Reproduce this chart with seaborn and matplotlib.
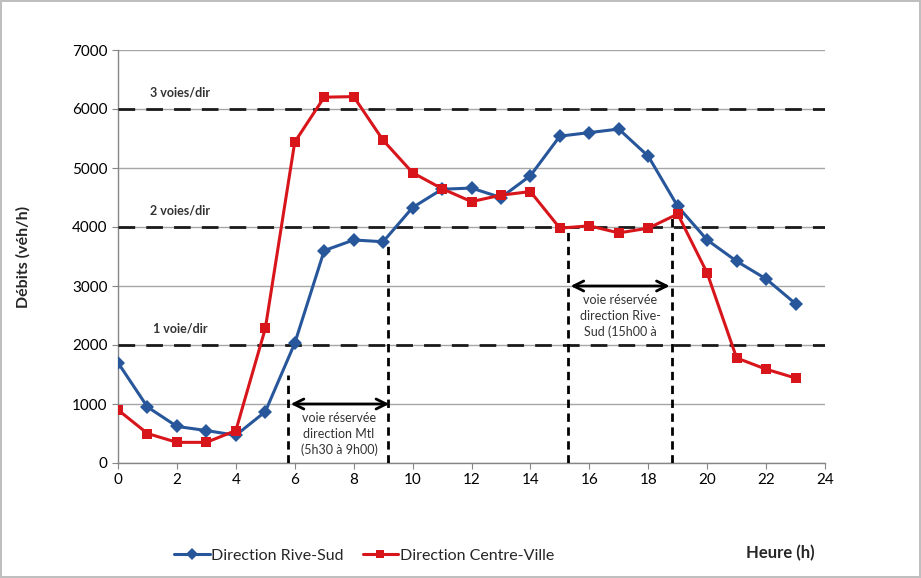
import numpy as np
import pandas as pd
import matplotlib
matplotlib.use("Agg")
import matplotlib.pyplot as plt
import seaborn as sns

hours = list(range(24))
rive_sud = [1700, 950, 620, 550, 470, 870, 2030, 3600, 3780, 3750, 4330, 4640,
            4660, 4500, 4870, 5540, 5600, 5660, 5200, 4350, 3780, 3420, 3120, 2700]
centre_ville = [900, 500, 350, 350, 550, 2280, 5440, 6200, 6210, 5470, 4920, 4650,
                4430, 4540, 4600, 3980, 4020, 3900, 3980, 4220, 3220, 1780, 1590, 1440]
capacity_levels = [2000, 4000, 6000]
capacity_labels = ["1 voie/dir", "2 voies/dir", "3 voies/dir"]
series_names = ["Direction Rive-Sud", "Direction Centre-Ville"]

df = pd.DataFrame({
    "Heure": hours * 2,
    "Debit": rive_sud + centre_ville,
    "Direction": [series_names[0]] * 24 + [series_names[1]] * 24,
})

sns.set_style("white")
plt.rcParams['font.family'] = ['Lato', 'DejaVu Sans']

fig = plt.figure(figsize=(9.21, 5.78), dpi=100)
fig.patch.set_edgecolor("#BFBFBF")
fig.patch.set_linewidth(1.5)
ax = fig.add_axes([118/921, 1 - 463/578, (825-118)/921, (463-50)/578])

blue = "#27569B"
red = "#D7151B"
palette = {series_names[0]: blue, series_names[1]: red}
sns.lineplot(data=df, x="Heure", y="Debit", hue="Direction", style="Direction",
             markers={series_names[0]: "D", series_names[1]: "s"}, dashes=False,
             palette=palette, linewidth=2.2, markersize=7, markeredgewidth=0,
             ax=ax, legend=True, zorder=5)

ax.set_xlim(0, 24)
ax.set_ylim(0, 7000)
ax.set_xticks(range(0, 25, 2))
ax.set_yticks(range(0, 7001, 1000))
ax.yaxis.grid(True, color="#A6A6A6", linewidth=1)
ax.xaxis.grid(False)
ax.set_axisbelow(True)
for s in ["top", "right"]:
    ax.spines[s].set_visible(False)
for s in ["left", "bottom"]:
    ax.spines[s].set_color("#868686")
    ax.spines[s].set_linewidth(1)
ax.tick_params(axis="both", labelsize=11, colors="#000000", length=4,
               direction="out", color="#868686", bottom=True, left=True)
ax.set_xlabel("")
ax.set_ylabel("Débits (véh/h)", fontsize=11.5, fontweight="bold", labelpad=30)
fig.text(780/921, 1 - 553/578, "Heure (h)", fontsize=12, fontweight="bold",
         ha="center", va="center")

# capacity lines
for lvl, lab in zip(capacity_levels, capacity_labels):
    ax.axhline(lvl, color="#1a1a1a", linestyle=(0, (6, 4)), linewidth=2, zorder=3)
    ax.text(2.1, lvl + 180, lab, fontsize=9, fontweight="bold", ha="center",
            va="bottom", color="#333333")

# reserved lane periods
vlines = [(5.77, 1500), (9.17, 3750), (15.27, 4000), (18.82, 4200)]
for xv, top in vlines:
    ax.plot([xv, xv], [0, top], color="black", linestyle=(0, (3, 2)),
            linewidth=2, zorder=4)
ax.annotate("", xy=(5.77, 1000), xytext=(9.3, 1000),
            arrowprops=dict(arrowstyle="<->", color="black", lw=2, mutation_scale=18), zorder=6)
ax.annotate("", xy=(15.27, 3000), xytext=(18.82, 3000),
            arrowprops=dict(arrowstyle="<->", color="black", lw=2, mutation_scale=18), zorder=6)
ax.text(7.5, 870, "voie réservée\ndirection Mtl\n(5h30 à 9h00)", fontsize=9,
        ha="center", va="top", linespacing=1.4, color="#333333")
ax.text(17.05, 2870, "voie réservée\ndirection Rive-\nSud (15h00 à", fontsize=9,
        ha="center", va="top", linespacing=1.4, color="#333333")

leg = ax.legend(loc="center left", bbox_to_anchor=(50/707, -0.225),
                ncol=2, frameon=False, fontsize=11.5, handlelength=2.2,
                columnspacing=1.2, handletextpad=0.1, borderaxespad=0)
for h in leg.legend_handles:
    h.set_markersize(6)

fig.savefig("out.png", dpi=100)
